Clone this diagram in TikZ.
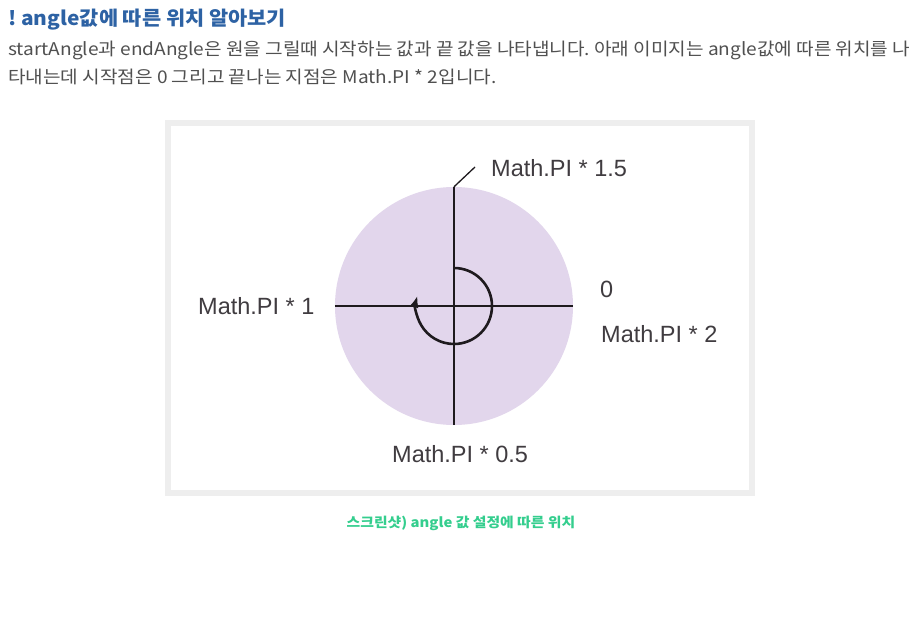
\documentclass[tikz,border=0pt]{standalone}
\usepackage{fontspec}
\usepackage{tikz}
\usetikzlibrary{arrows.meta}
\setmainfont{Liberation Sans}
\newfontfamily\krtitle[FakeStretch=1.07]{Noto Sans CJK KR}
\newfontfamily\krbody[FakeStretch=1.09]{Noto Sans CJK KR}
\newfontfamily\krcap[FakeStretch=1.1]{Noto Sans CJK KR}
\definecolor{TitleBlue}{RGB}{45,98,164}
\definecolor{BodyGray}{RGB}{80,80,80}
\definecolor{CapGreen}{RGB}{52,206,142}
\definecolor{FrameGray}{RGB}{238,238,238}
\definecolor{DiscLilac}{RGB}{226,214,236}
\definecolor{InkBlack}{RGB}{30,26,30}

\tikzset{
  pagetext/.style={inner sep=0pt, anchor=base west},
  anglelabel/.style={inner sep=0pt, anchor=base west, text=InkBlack!85,
    font=\fontsize{23.5}{26}\selectfont},
  axisline/.style={draw=InkBlack, line width=1.3pt}
}

\begin{document}
\frenchspacing
\begin{tikzpicture}[x=1pt, y=1pt]
      \useasboundingbox[fill=white] (0,0) rectangle (918,-621);

      % heading and paragraph
      \node[pagetext, text=TitleBlue,
        font=\krtitle\bfseries\fontsize{19.5}{22}\selectfont] (title) at (8,-25)
        {! angle값에 따른 위치 알아보기};
      \node[pagetext, text=BodyGray,
        font=\krbody\fontsize{17.5}{20}\selectfont] (bodyone) at (8,-55)
        {\makebox[902pt][s]{startAngle과 endAngle은 원을 그릴때 시작하는 값과 끝 값을 나타냅니다. 아래 이미지는 angle값에 따른 위치를 나}};
      \node[pagetext, text=BodyGray,
        font=\krbody\fontsize{17.5}{20}\selectfont] (bodytwo) at (8,-83)
        {타내는데 시작점은 0 그리고 끝나는 지점은 Math.PI * 2입니다.};

      % screenshot frame
      \draw[FrameGray, line width=6pt] (168,-123) rectangle (752,-493);

      \node[circle, fill=DiscLilac, minimum size=238pt, inner sep=0pt] (disc) at (454,-306) {};
      \draw[axisline] (disc.west) -- (disc.east);
      \draw[axisline] (disc.north) -- (disc.south);
      \coordinate (lead) at (475,-167);
      \draw[axisline] (disc.north) -- (lead);

      \draw[InkBlack, line width=2.6pt, -{Latex[length=12pt,width=9pt]}]
        ([yshift=38pt]disc.center) arc[start angle=90, end angle=-196, radius=38pt];

      \node[anglelabel] (pione) at (491,-176) {Math.PI * 1.5};
      \node[anglelabel] (zero) at (600,-297) {0};
      \node[anglelabel] (pihalf) at (198,-314) {Math.PI * 1};
      \node[anglelabel] (pitwo) at (601,-342) {Math.PI * 2};
      \node[anglelabel] (pizero) at (392,-462) {Math.PI * 0.5};

      % caption
      \node[inner sep=0pt, anchor=base, text=CapGreen,
        font=\krcap\bfseries\fontsize{13.5}{16}\selectfont] (caption) at (461,-527)
        {스크린샷) angle 값 설정에 따른 위치};
    \end{tikzpicture}
\end{document}
